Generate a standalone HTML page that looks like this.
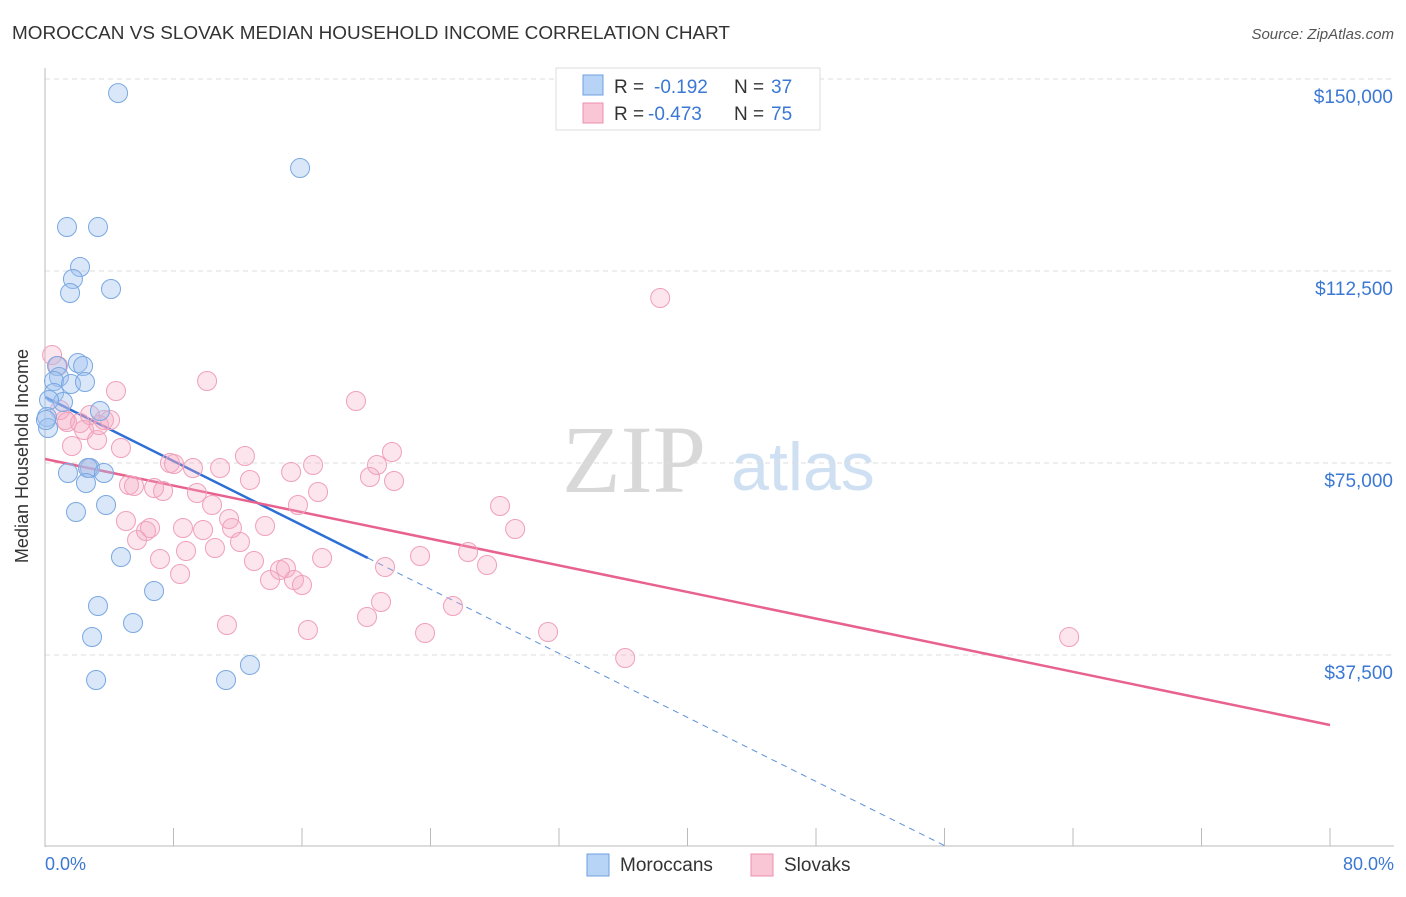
<!DOCTYPE html>
<html><head><meta charset="utf-8"><style>
body{margin:0;background:#fff;font-family:"Liberation Sans",sans-serif;}
</style></head><body>
<svg id="chart" width="1406" height="892" xmlns="http://www.w3.org/2000/svg">
<text x="12" y="39" font-size="18" fill="#333" textLength="718" lengthAdjust="spacingAndGlyphs">MOROCCAN VS SLOVAK MEDIAN HOUSEHOLD INCOME CORRELATION CHART</text>
<text x="1394" y="39" font-size="15" fill="#555" font-style="italic" text-anchor="end">Source: ZipAtlas.com</text>
<g><text x="634" y="492" font-size="96" font-family="Liberation Serif,serif" fill="#d8d8d8" text-anchor="middle">ZIP</text><text x="803" y="490" font-size="68" fill="#cfe0f3" text-anchor="middle">atlas</text></g>
<g id="grid"></g><g id="axes"></g><g id="lines"></g><g id="pts"></g>
<text x="28" y="456" font-size="18" fill="#333" text-anchor="middle" transform="rotate(-90 28 456)">Median Household Income</text>
<text x="45" y="870" font-size="18" fill="#3b78d4">0.0%</text>
<text x="1394" y="870" font-size="18" fill="#3b78d4" text-anchor="end">80.0%</text>
<g>
<rect x="556" y="68" width="264" height="62" fill="#fff" stroke="#ddd"/>
<rect x="583" y="75" width="20" height="20" fill="#b7d3f5" stroke="#6fa0e0"/>
<text x="614" y="93" font-size="19" fill="#333">R = </text><text x="654" y="93" font-size="19" fill="#3b78d4">-0.192</text>
<text x="734" y="93" font-size="19" fill="#333">N = </text><text x="771" y="93" font-size="19" fill="#3b78d4">37</text>
<rect x="583" y="103" width="20" height="20" fill="#f9c6d6" stroke="#ee90ae"/>
<text x="614" y="120" font-size="19" fill="#333">R = </text><text x="648" y="120" font-size="19" fill="#3b78d4">-0.473</text>
<text x="734" y="120" font-size="19" fill="#333">N = </text><text x="771" y="120" font-size="19" fill="#3b78d4">75</text>
</g>
<g>
<rect x="587" y="854" width="22" height="22" fill="#b7d3f5" stroke="#6fa0e0"/><text x="620" y="871" font-size="19" fill="#333">Moroccans</text>
<rect x="751" y="854" width="22" height="22" fill="#f9c6d6" stroke="#ee90ae"/><text x="784" y="871" font-size="19" fill="#333">Slovaks</text>
</g>
</svg>
<script>
const yTicks=[37500,75000,112500,150000];
const yTickLabels=["$37,500","$75,000","$112,500","$150,000"];
const xTicks=[0,8,16,24,32,40,48,56,64,72,80];
const blueX=[4.55,15.88,1.37,3.30,2.18,1.74,1.56,4.11,0.75,2.05,2.37,0.87,0.56,1.62,2.49,0.56,1.12,0.25,0.12,0.19,3.42,1.43,2.80,2.68,3.67,2.55,1.93,3.80,4.73,6.79,3.30,5.48,2.93,3.18,11.27,12.76,0.06];
const blueY=[147253,132609,121090,121090,113281,110938,108203,108984,93945,94531,93945,91797,91016,90430,90820,88672,86914,87305,83984,81836,85156,73047,74023,74023,73047,71094,65430,66797,56641,50000,47070,43750,41016,32617,32617,35547,83398];
const pinkX=[0.44,0.81,0.93,1.25,1.37,1.68,2.18,2.43,3.24,3.36,3.67,4.05,4.42,4.73,2.68,5.04,5.23,5.54,5.73,6.29,6.54,6.79,7.16,7.35,7.78,8.03,8.41,8.59,8.78,9.21,9.46,9.84,10.09,10.40,10.58,10.90,11.33,11.46,11.64,12.14,12.45,12.76,13.01,13.70,14.01,14.63,15.00,15.32,15.50,15.75,16.00,16.37,16.69,17.00,17.25,19.36,20.05,20.23,20.67,20.92,21.17,21.60,21.73,23.66,23.35,25.40,26.34,27.52,28.33,29.27,31.32,36.12,38.30,63.76,2.80];
const pinkY=[96094,93945,85352,83398,83008,78320,82813,81445,79492,82422,83398,83398,89063,77930,74023,63672,70703,70508,59961,61719,62305,70117,56250,69531,75000,74805,53320,62305,57813,74023,69141,61914,91016,66797,58398,74023,43359,64063,62305,59570,76367,71680,55859,62695,52148,54102,54492,73242,52148,66797,51172,42383,74609,69336,56445,87109,44922,72266,74609,47852,54688,77148,71484,41797,56836,47070,57617,55078,66602,62109,41992,36914,107227,41016,84375];
const blueFit=[87891,-1564.5];
const blueSolidEnd=20.1, blueDashEnd=56.2;
const pinkFit=[75781,-649.4];
const X=v=>45+v/80*1285, Y=v=>847-v/37500*192;
const NS="http://www.w3.org/2000/svg";
function mk(p,tag,a){const e=document.createElementNS(NS,tag);for(const k in a)e.setAttribute(k,a[k]);document.getElementById(p).appendChild(e);return e;}
yTicks.forEach((t,i)=>{
 const l=mk('grid','line',{x1:45,x2:1394,y1:Y(t),y2:Y(t),stroke:'#ddd','stroke-dasharray':'5,4'});
 
 
 const tx=mk('grid','text',{x:1393,y:Y(t)+24,'font-size':19,fill:'#3b78d4','text-anchor':'end'});
 tx.textContent=yTickLabels[i];
 
 
});
const ax=mk('axes','line',{x1:45,x2:45,y1:68,y2:847,stroke:'#bbb'});


const bx=mk('axes','line',{x1:45,x2:1394,y1:846,y2:846,stroke:'#bbb'});


xTicks.forEach(t=>{const l=mk('axes','line',{x1:X(t),x2:X(t),y1:828,y2:846,stroke:'#bbb'});
 
 });
const f=(fit,x)=>fit[0]+fit[1]*x;
let e=mk('lines','line',{x1:X(0),y1:Y(f(blueFit,0)),x2:X(blueSolidEnd),y2:Y(f(blueFit,blueSolidEnd)),stroke:'#2d6fd6','stroke-width':2.5});


e=mk('lines','line',{x1:X(blueSolidEnd),y1:Y(f(blueFit,blueSolidEnd)),x2:X(blueDashEnd),y2:Y(f(blueFit,blueDashEnd)),stroke:'#5b8fdd','stroke-width':1,'stroke-dasharray':'6,5'});


e=mk('lines','line',{x1:X(0),y1:Y(f(pinkFit,0)),x2:X(80),y2:Y(f(pinkFit,80)),stroke:'#e8628e','stroke-width':2.5});


pinkX.forEach((x,i)=>{const c=mk('pts','circle',{cx:X(x),cy:Y(pinkY[i]),r:9.5,fill:'rgba(244,170,195,0.3)',stroke:'#f0a0ba','stroke-width':1});
 
 });
blueX.forEach((x,i)=>{const c=mk('pts','circle',{cx:X(x),cy:Y(blueY[i]),r:9.5,fill:'rgba(160,196,240,0.4)',stroke:'#7aa8e2','stroke-width':1});
 
 });
</script>
</body></html>
